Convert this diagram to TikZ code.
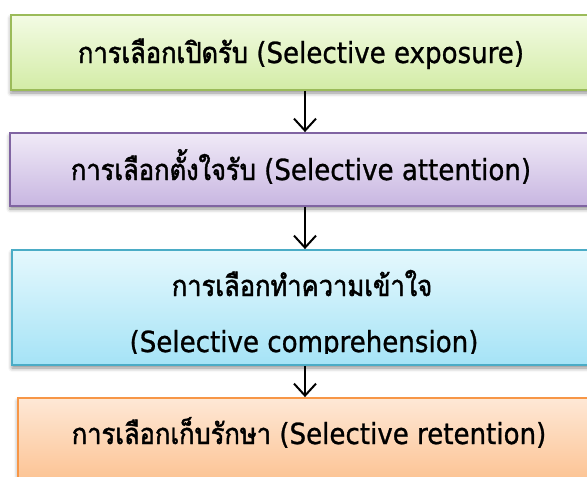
\documentclass[tikz,border=0pt]{standalone}
\usepackage{fontspec}
\setmainfont[FakeBold=0.9]{DejaVu Sans Condensed}
\newfontfamily\thai[Script=Thai,Scale=1.0,FakeStretch=0.88,FakeBold=1.6]{Loma}
\usetikzlibrary{arrows.meta,shadows.blur}
\definecolor{gA}{HTML}{F3FBE4}
\definecolor{gB}{HTML}{D3ECA6}
\definecolor{gD}{HTML}{9BBB59}
\definecolor{pA}{HTML}{F0EAF7}
\definecolor{pB}{HTML}{C8B6E1}
\definecolor{pD}{HTML}{8064A2}
\definecolor{cA}{HTML}{E5F8FD}
\definecolor{cB}{HTML}{A5E3F6}
\definecolor{cD}{HTML}{4BACC6}
\definecolor{oA}{HTML}{FEE8D6}
\definecolor{oB}{HTML}{FCBF8C}
\definecolor{oD}{HTML}{F79646}
\begin{document}
\begin{tikzpicture}[x=1pt,y=-1pt,
  box/.style={line width=1.8pt, inner sep=0pt,
    blur shadow={shadow xshift=0pt, shadow yshift=-3pt, shadow blur radius=4pt, shadow opacity=45}},
  lab/.style={font=\fontsize{29}{34}\selectfont, inner sep=0pt, text=black, anchor=base},
  arr/.style={line width=2pt, -{Straight Barb[length=12pt,width=22pt]}}]
\useasboundingbox (0,0) rectangle (587,477);
\clip (0,0) rectangle (587,477);
\node[box, draw=gD, top color=gA, bottom color=gB, minimum width=581pt, minimum height=75pt] (b1) at (301.5,52.5) {};
\node[box, draw=pD, top color=pA, bottom color=pB, minimum width=582pt, minimum height=73pt] (b2) at (301,169.5) {};
\node[box, draw=cD, top color=cA, bottom color=cB, minimum width=580pt, minimum height=115pt] (b3) at (302,307.5) {};
\node[box, draw=oD, top color=oA, bottom color=oB, minimum width=582pt, minimum height=92pt] (b4) at (309,444) {};
\coordinate (ax) at (305,0);
\draw[arr] (b1.south -| ax) -- (b2.north -| ax);
\draw[arr] (b2.south -| ax) -- (b3.north -| ax);
\draw[arr] (b3.south -| ax) -- (b4.north -| ax);
\node[lab] (t1) at (301,63) {{\thai การเลือกเปิดรับ} (Selective exposure)};
\node[lab] (t2) at (301,180) {{\thai การเลือกตั้งใจรับ} (Selective attention)};
\begin{scope}
\clip (b3.north west) rectangle (592,353);
\node[lab] (t3a) at (302,296) {\thai การเลือกทำความเข้าใจ};
\node[lab] (t3b) at (304,352) {(Selective comprehension)};
\end{scope}
\node[lab] (t4) at (309,444) {{\thai การเลือกเก็บรักษา} (Selective retention)};
\end{tikzpicture}
\end{document}
